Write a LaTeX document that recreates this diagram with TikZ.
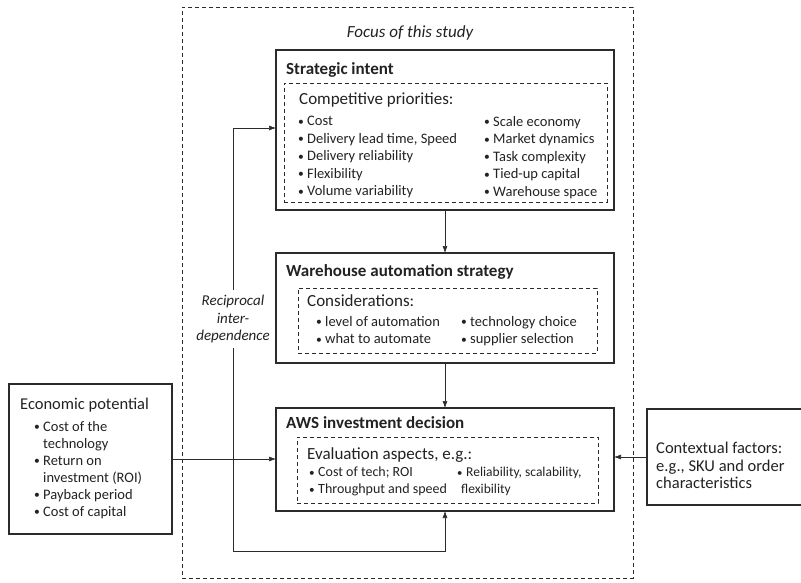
\documentclass[tikz,border=0pt]{standalone}
\usepackage{fontspec}
\setmainfont{Carlito}
\usepackage{xcolor}
\usepackage{tikz}
\usetikzlibrary{arrows.meta}
\definecolor{inkline}{HTML}{2B2B2B}
\definecolor{inktext}{HTML}{222222}

\newcommand{\bul}{\makebox[9pt][l]{\raisebox{0.5pt}{\scalebox{0.8}{•}}}}

\tikzset{
  framebox/.style={draw=inkline, line width=1.1pt, anchor=north west, inner sep=0pt, outer sep=0pt},
  dashbox/.style={draw=inkline, line width=0.8pt, dash pattern=on 4pt off 3pt, anchor=north west, inner sep=0pt, outer sep=0pt},
  boxtitle/.style={anchor=west, inner sep=0pt, font=\fontsize{17}{20}\selectfont\bfseries\color{inktext}},
  listhead/.style={anchor=west, inner sep=0pt, font=\fontsize{17}{20}\selectfont\color{inktext}},
  listitems/.style={anchor=north west, inner sep=0pt, align=left, font=\fontsize{14.5}{17.5}\selectfont\color{inktext}},
  link/.style={draw=inkline, line width=0.6pt, -{Latex[length=7pt,width=5pt]}},
}

\begin{document}
\begin{tikzpicture}[x=1pt, y=-1pt]
\useasboundingbox (0,0) rectangle (801,582);

% Study frame
\node[dashbox, minimum width=451pt, minimum height=571pt] (study) at (182,7) {};
\node[font=\fontsize{17}{20}\selectfont\itshape\color{inktext}] (focus) at (410,33) {Focus of this study};

% Strategic intent
\node[framebox, minimum width=338pt, minimum height=160pt] (strat) at (276,50) {};
\node[boxtitle] (strattitle) at (286,70) {Strategic intent};
\node[dashbox, minimum width=323pt, minimum height=119pt] (stratinner) at (284,83) {};
\node[listhead] (prio) at (299,100) {Competitive priorities:};
\node[listitems] (prioleft) at (298,116) {\bul Cost\\\bul Delivery lead time, Speed\\\bul Delivery reliability\\\bul Flexibility\\\bul Volume variability};
\node[listitems] (prioright) at (484,116) {\bul Scale economy\\\bul Market dynamics\\\bul Task complexity\\\bul Tied-up capital\\\bul Warehouse space};

% Warehouse automation strategy
\node[framebox, minimum width=338pt, minimum height=110pt] (ware) at (276,253) {};
\node[boxtitle] (waretitle) at (286,272) {Warehouse automation strategy};
\node[dashbox, minimum width=299pt, minimum height=65pt] (wareinner) at (298,288) {};
\node[listhead] (consid) at (307,301) {Considerations:};
\node[listitems] (considleft) at (316,316) {\bul level of automation\\\bul what to automate};
\node[listitems] (considright) at (461,316) {\bul technology choice\\\bul supplier selection};

% AWS investment decision
\node[framebox, minimum width=338pt, minimum height=103pt] (aws) at (276,408) {};
\node[boxtitle] (awstitle) at (286,423) {AWS investment decision};
\node[dashbox, minimum width=301pt, minimum height=66pt] (awsinner) at (297,437) {};
\node[listhead] (evalhead) at (307,455) {Evaluation aspects, e.g.:};
\node[listitems, font=\fontsize{14}{17}\selectfont\color{inktext}] (evalleft) at (309,467) {\bul Cost of tech; ROI\\\bul Throughput and speed};
\node[listitems, font=\fontsize{13.5}{17}\selectfont\color{inktext}] (evalright) at (457,467) {\bul Reliability, scalability,\\\hspace*{4pt}flexibility};

% Economic potential
\node[framebox, minimum width=163pt, minimum height=150pt] (econ) at (9,384) {};
\node[listhead, font=\fontsize{16.5}{20}\selectfont\color{inktext}] (econhead) at (20,405) {Economic potential};
\node[listitems, font=\fontsize{14.5}{17}\selectfont\color{inktext}] (econitems) at (34,421) {\bul Cost of the\\\hspace*{9pt}technology\\\bul Return on\\\hspace*{9pt}investment (ROI)\\\bul Payback period\\\bul Cost of capital};

% Contextual factors
\node[framebox, minimum width=170pt, minimum height=96pt] (context) at (647,409) {};
\node[listitems, font=\fontsize{16.5}{17.5}\selectfont\color{inktext}] (contexttext) at (656,442) {Contextual factors:\\e.g., SKU and order\\characteristics};

% Reciprocal loop
\node[inner sep=5pt, align=center, font=\fontsize{15}{17.5}\selectfont\itshape\color{inktext}] (recip) at (233,319) {Reciprocal\\inter-\\dependence};
\coordinate (looptop) at (233,128);
\coordinate (loopbot) at (233,551);

% Connectors
\draw[link] (strat.south) -- (ware.north);
\draw[link] (ware.south) -- (aws.north);
\draw[link] (econ.east) -- (econ.east -| aws.west);
\draw[link] (context.west) -- (context.west -| aws.east);
\draw[link] (recip.north) -- (looptop) -- (looptop -| strat.west);
\draw[link] (recip.south) -- (loopbot) -| (aws.south);

\end{tikzpicture}
\end{document}
